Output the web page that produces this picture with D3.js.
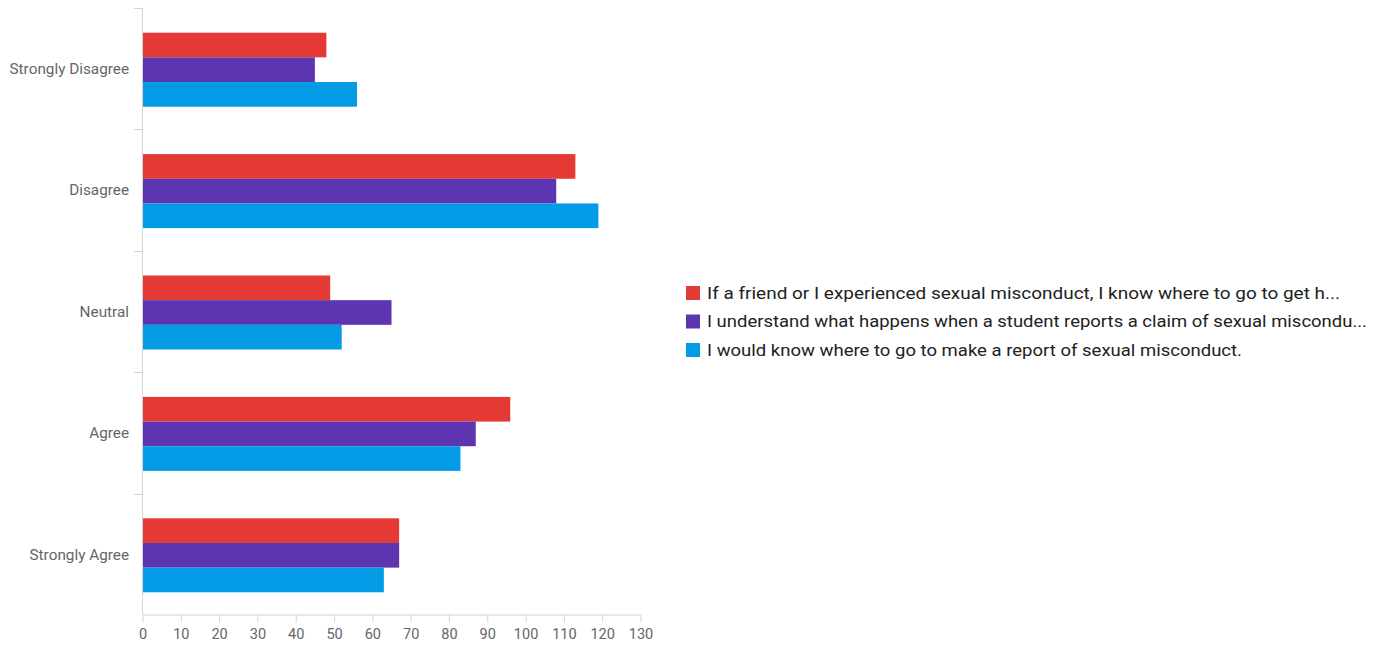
<!DOCTYPE html>
<html><head><meta charset="utf-8">
<script src="https://cdn.jsdelivr.net/npm/d3@7"></script>
<style>body{margin:0;background:#fff;}svg{display:block;}</style>
</head><body>
<svg id="c" width="1383" height="645"></svg>
<script>
const categories = ["Strongly Disagree","Disagree","Neutral","Agree","Strongly Agree"];
const seriesNames = [
  "If a friend or I experienced sexual misconduct, I know where to go to get h...",
  "I understand what happens when a student reports a claim of sexual miscondu...",
  "I would know where to go to make a report of sexual misconduct."
];
const seriesA = [48,113,49,96,67];
const seriesB = [45,108,65,87,67];
const seriesC = [56,119,52,83,63];
const xTicks = [0,10,20,30,40,50,60,70,80,90,100,110,120,130];
const colors = ["#E53935","#5E35B1","#039BE5"];
const series = [seriesA, seriesB, seriesC];

const svg = d3.select("#c");
const x = d3.scaleLinear().domain([0,130]).range([142.5,640.5]);
const y0 = d3.scaleBand().domain(categories).range([9,616]).padding(0);
const groupH = 74;
const y1 = d3.scaleBand().domain([0,1,2]).range([0,groupH]).padding(0);

// bars
categories.forEach((cat,i)=>{
  const g = svg.append("g").attr("transform",`translate(0,${y0(cat)+(y0.bandwidth()-groupH)/2})`);
  series.forEach((s,j)=>{
    g.append("rect").attr("x",x(0)).attr("y",y1(j)).attr("width",x(s[i])-x(0)).attr("height",y1.bandwidth()).attr("fill",colors[j]);
  });
});

const axisColor = "#d4d4d4";
// y axis
svg.append("line").attr("x1",142.5).attr("x2",142.5).attr("y1",8).attr("y2",614).attr("stroke",axisColor);
const seps = categories.map(c=>y0(c)).concat([y0.range()[0]]);
seps.forEach(v=>{
  const yy = Math.round(v - (v>600?0:1)) + 0.5;
  svg.append("line").attr("x1",134).attr("x2",142.5).attr("y1",yy).attr("y2",yy).attr("stroke",axisColor);
});
svg.append("line").attr("x1",134).attr("x2",142.5).attr("y1",8.5).attr("y2",8.5).attr("stroke",axisColor);
categories.forEach(c=>{
  svg.append("text").attr("x",129).attr("y",y0(c)+y0.bandwidth()/2-1).attr("dy","0.35em")
    .attr("text-anchor","end").attr("fill","#666").style("font-family","Roboto, sans-serif").style("font-size","15.3px")
    .text(c);
});

// x axis
const xa = svg.append("g").attr("transform","translate(0,614.5)")
  .call(d3.axisBottom(x).tickValues(xTicks).tickSize(8).tickSizeOuter(0).tickPadding(6));
xa.select(".domain").attr("stroke",axisColor);
xa.selectAll(".tick line").attr("stroke",axisColor);
xa.selectAll(".tick text").attr("fill","#666").style("font-family","Roboto, sans-serif").style("font-size","14.5px");

// legend
const legendWidths = [633, 660, 535];
const lg = svg.append("g");
seriesNames.forEach((n,j)=>{
  const cy = 293 + j*28.5;
  lg.append("rect").attr("x",686).attr("y",cy-7).attr("width",14).attr("height",14).attr("fill",colors[j]);
  lg.append("text").attr("x",707).attr("y",cy).attr("dy","0.35em").attr("fill","#222")
    .attr("textLength",legendWidths[j]).attr("lengthAdjust","spacingAndGlyphs")
    .style("font-family","Roboto, sans-serif").style("font-size","17px").text(n);
});
</script>
</body></html>
